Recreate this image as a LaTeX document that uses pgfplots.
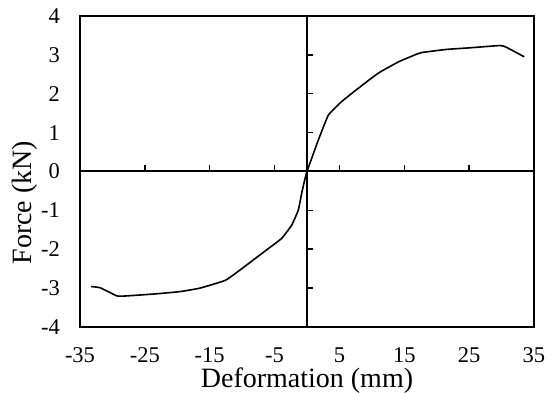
\documentclass[border=0pt]{standalone}
\usepackage{fontspec}
\setmainfont{Liberation Serif}
\usepackage{pgfplots}
\pgfplotsset{compat=1.18}
\begin{document}
\begin{tikzpicture}
\begin{axis}[
  at={(0pt,0pt)}, anchor=south west,
  scale only axis, width=454pt, height=311pt,
  xmin=-35, xmax=35, ymin=-4, ymax=4,
  enlargelimits=false,
  xtick={-35,-25,-15,-5,5,15,25,35},
  ytick={-4,-3,-2,-1,0,1,2,3,4},
  major tick length=0pt,
  axis line style={line width=2pt},
  /pgf/number format/assume math mode=true,
  tick label style={font=\fontsize{22.5}{22.5}\selectfont, inner sep=0pt},
  xticklabel style={anchor=center, yshift=-28pt},
  yticklabel style={anchor=east, xshift=-20pt},
  xlabel={Deformation (mm)}, ylabel={Force (kN)},
  label style={font=\fontsize{28}{28}\selectfont, inner sep=0pt},
  xlabel style={at={(axis description cs:0.5,-0.172)}, anchor=center},
  ylabel style={at={(axis description cs:-0.121,0.40)}, anchor=center, rotate=0},
]
\end{axis}
\begin{axis}[
  at={(0pt,0pt)}, anchor=south west,
  scale only axis, width=454pt, height=311pt,
  xmin=-35, xmax=35, ymin=-4, ymax=4,
  enlargelimits=false,
  axis lines=middle,
  axis line style={line width=2pt, -},
  xtick={-35,-25,-15,-5,5,15,25,35},
  ytick={-4,-3,-2,-1,1,2,3,4},
  xticklabels={}, yticklabels={},
  tick align=inside,
  major tick length=6pt,
  tick style={line width=1.5pt, black},
]
\addplot[black, line width=1.6pt, smooth, tension=0.25] coordinates {
(-33.3,-2.96) (-31.9,-2.99) (-29.3,-3.20) (-27.8,-3.20) (-23.5,-3.15)
(-19.6,-3.09) (-16.5,-3.00) (-12.6,-2.80) (-10.3,-2.53) (-7.76,-2.21)
(-5.7,-1.95) (-3.9,-1.72) (-2.36,-1.38) (-1.34,-0.99) (-0.82,-0.56)
(-0.4,-0.25) (0,0) (1.75,0.81) (3.3,1.45)
(5.35,1.80) (7.9,2.14) (11.0,2.53) (14.1,2.82) (16.65,3.0) (17.7,3.06)
(21.5,3.14) (25,3.18) (29.8,3.24) (30.8,3.19) (33.5,2.95)
};
\end{axis}
\pgfresetboundingbox
\useasboundingbox (-80pt,-66pt) rectangle (474pt,327pt);
\end{tikzpicture}
\end{document}
